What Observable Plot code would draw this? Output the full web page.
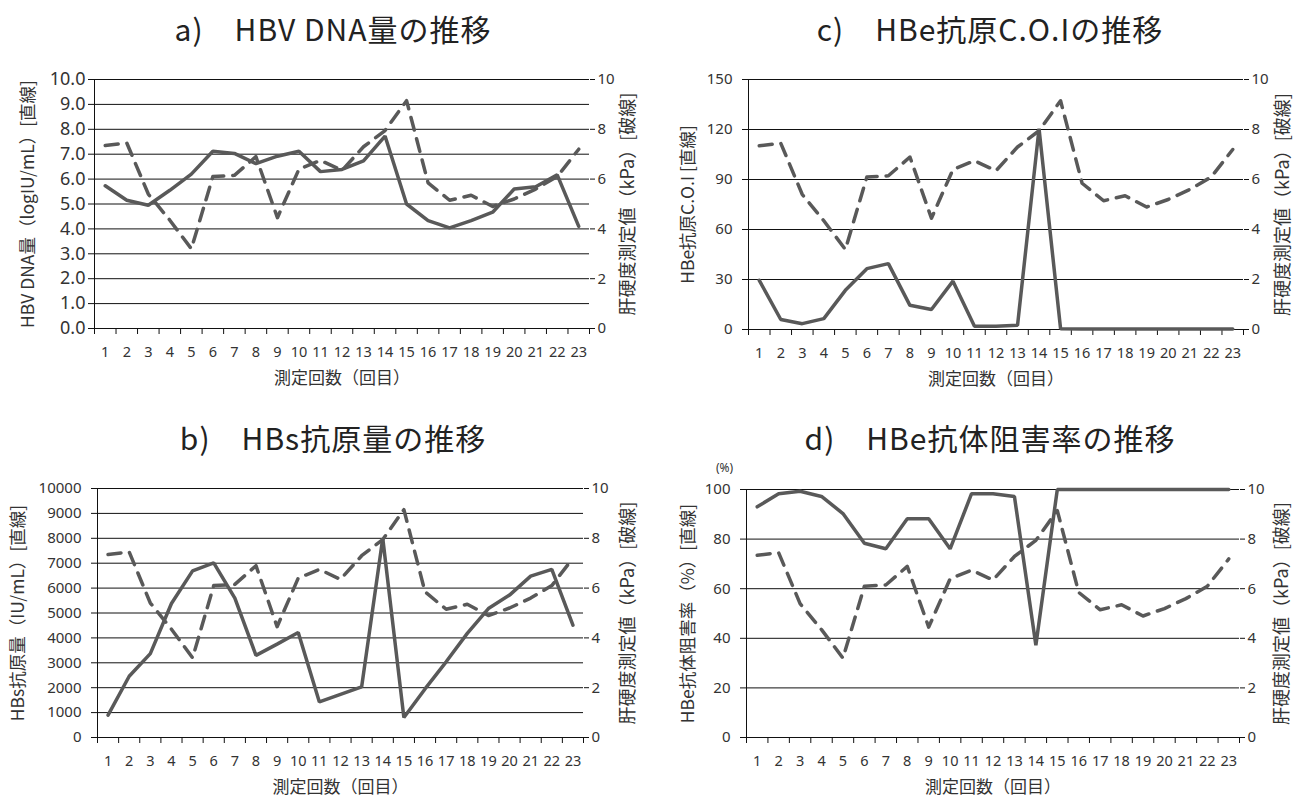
<!DOCTYPE html>
<html><head><meta charset="utf-8">
<script src="https://cdn.jsdelivr.net/npm/d3@7"></script>
<script src="https://cdn.jsdelivr.net/npm/@observablehq/plot@0.6"></script>
<style>
body{margin:0;background:#fff;}
#root{position:relative;width:1306px;height:800px;background:#fff;overflow:hidden;}
.title{position:absolute;font-family:"Noto Sans CJK JP";font-size:30px;letter-spacing:1px;color:#222;white-space:pre;transform:translateX(-50%);line-height:30px;}
.panel{position:absolute;}
.panel svg{position:absolute;left:0;top:0;}
</style></head><body><div id="root"></div>
<script>
// ---- data ----
const visits = [1,2,3,4,5,6,7,8,9,10,11,12,13,14,15,16,17,18,19,20,21,22,23];
// liver stiffness (kPa), dashed line, right axis
const kpa = [7.35,7.45,5.4,4.35,3.2,6.1,6.15,6.9,4.45,6.4,6.75,6.35,7.3,7.95,9.15,5.85,5.15,5.35,4.9,5.2,5.6,6.1,7.2];
// a) HBV DNA (logIU/mL)
const hbvDna = [5.73,5.15,4.95,5.55,6.2,7.12,7.03,6.62,6.92,7.12,6.3,6.39,6.73,7.73,5.0,4.33,4.04,4.33,4.67,5.6,5.69,6.17,4.1];
// b) HBs antigen (IU/mL)
const hbsAg = [900,2460,3370,5380,6690,7010,5600,3300,3750,4220,1430,1730,2030,8000,800,1950,3040,4180,5180,5720,6480,6750,4510];
// c) HBe antigen C.O.I
const hbeAg = [29.5,6,3.5,6.5,23.5,36.5,39.5,14.5,12,29,2,2,2.5,120.5,0.5,0.3,0.3,0.3,0.3,0.3,0.3,0.3,0.3];
// d) HBe antibody inhibition (%)
const hbeAb = [93,98.3,99.3,97.2,90.3,78.3,76.1,88.2,88.2,76.1,98.3,98.3,97.2,37.2,100,100,100,100,100,100,100,100,100];

// tick labels
const ticksA = [0,1,2,3,4,5,6,7,8,9,10];
const ticksB = [0,1000,2000,3000,4000,5000,6000,7000,8000,9000,10000];
const ticksC = [0,30,60,90,120,150];
const ticksD = [0,20,40,60,80,100];
const kpaTicks = [0,2,4,6,8,10];

const titles = ["a)\u3000HBV DNA量の推移","b)\u3000HBs抗原量の推移","c)\u3000HBe抗原C.O.Iの推移","d)\u3000HBe抗体阻害率の推移"];
const yLabels = ["HBV DNA量（logIU/mL）[直線]","HBs抗原量（IU/mL）[直線]","HBe抗原C.O.I [直線]","HBe抗体阻害率（%）[直線]"];
const kpaLabel = "肝硬度測定値（kPa）[破線]";
const xLabel = "測定回数（回目）";

const root = document.getElementById("root");
const LINE = "#595959", AX = "#111", JP = "Noto Sans CJK JP";

function addTitle(text, cx, cy){
  const t = document.createElement("div");
  t.className = "title"; t.textContent = text;
  t.style.left = cx + "px"; t.style.top = (cy - 15) + "px";
  root.appendChild(t);
}

function panel(o){
  const div = document.createElement("div");
  div.className = "panel";
  Object.assign(div.style, {left:o.left+"px", top:o.top+"px", width:o.width+"px", height:o.height+"px"});
  const bounds = visits.map(v => v - 0.5).concat([visits[visits.length-1] + 0.5]);
  const data = visits.map((v,i) => ({v, y:o.values[i], k:kpa[i]}));
  const common = {
    width:o.width, height:o.height,
    marginLeft:o.mL, marginRight:o.mR, marginTop:o.mT, marginBottom:o.mB,
    style:"font-family:'Noto Sans';font-size:14px;color:#333;background:transparent;overflow:visible;"
  };
  const main = Plot.plot({
    ...common,
    x:{type:"linear", domain:[bounds[0], bounds[bounds.length-1]]},
    y:{domain:[o.ticks[0], o.ticks[o.ticks.length-1]]},
    marks:[
      Plot.ruleY(o.ticks, {stroke:AX, strokeWidth:1}),
      Plot.ruleX([bounds[0]], {stroke:AX, strokeWidth:1}),
      Plot.axisY(o.ticks, {anchor:"left", tickSize:6, tickPadding:o.yPad, tickFormat:o.fmt, label:null, stroke:AX, fontSize:o.yFont||15}),
      Plot.axisX(bounds, {anchor:"bottom", tickSize:6, tickFormat:() => "", label:null, stroke:AX}),
      Plot.axisX(visits, {anchor:"bottom", tickSize:0, tickPadding:18, label:null, fontSize:14.5}),
      Plot.lineY(data, {x:"v", y:"y", stroke:LINE, strokeWidth:3.5, strokeLinejoin:"miter"}),
      Plot.text([xLabel], {frameAnchor:"bottom", dy:o.xDy, lineAnchor:"middle", fontSize:17, fontFamily:JP, fill:"#333"}),
      Plot.text([o.yLabel], {frameAnchor:"left", rotate:-90, dx:o.lDx, lineAnchor:"middle", textAnchor:"middle", fontSize:17.5, fontFamily:JP, fill:"#333"}),
      ...(o.unit ? [Plot.text([o.unit], {frameAnchor:"top-left", dx:-22, dy:-21, lineAnchor:"middle", textAnchor:"middle", fontSize:12, fill:"#333"})] : [])
    ]
  });
  const over = Plot.plot({
    ...common,
    x:{type:"linear", domain:[bounds[0], bounds[bounds.length-1]], axis:null},
    y:{domain:[kpaTicks[0], kpaTicks[kpaTicks.length-1]], axis:null},
    marks:[
      Plot.axisY(kpaTicks, {anchor:"right", tickSize:5, tickPadding:3, label:null, stroke:AX, fontSize:15}),
      Plot.lineY(data, {x:"v", y:"k", stroke:LINE, strokeWidth:3.5, strokeDasharray:"13,9"}),
      Plot.text([kpaLabel], {frameAnchor:"right", rotate:-90, dx:o.rDx, lineAnchor:"middle", textAnchor:"middle", fontSize:18, fontFamily:JP, fill:"#333"})
    ]
  });
  div.appendChild(main); div.appendChild(over);
  root.appendChild(div);
}

addTitle(titles[0], 333, 28);
addTitle(titles[2], 990, 28);
addTitle(titles[1], 333, 437);
addTitle(titles[3], 990, 437);

panel({left:0, top:55, width:653, height:345, mL:94, mR:64, mT:24, mB:72, values:hbvDna, ticks:ticksA, fmt:d3.format(".1f"), yLabel:yLabels[0], lDx:-66, rDx:39, xDy:50, yFont:18, yPad:3});
panel({left:653, top:55, width:653, height:345, mL:95, mR:63, mT:24, mB:71, values:hbeAg, ticks:ticksC, fmt:d3.format("d"), yLabel:yLabels[2], lDx:-60, rDx:40, xDy:50, yPad:10});
panel({left:0, top:465, width:653, height:335, mL:97, mR:70, mT:23, mB:63, values:hbsAg, ticks:ticksB, fmt:d3.format("d"), yLabel:yLabels[1], lDx:-79, rDx:45, xDy:50, yPad:10});
panel({left:653, top:465, width:653, height:335, mL:93, mR:67, mT:24, mB:63, values:hbeAb, ticks:ticksD, fmt:d3.format("d"), yLabel:yLabels[3], lDx:-58, rDx:43, xDy:50, yPad:10, unit:"(%)"});
</script>
</body></html>
